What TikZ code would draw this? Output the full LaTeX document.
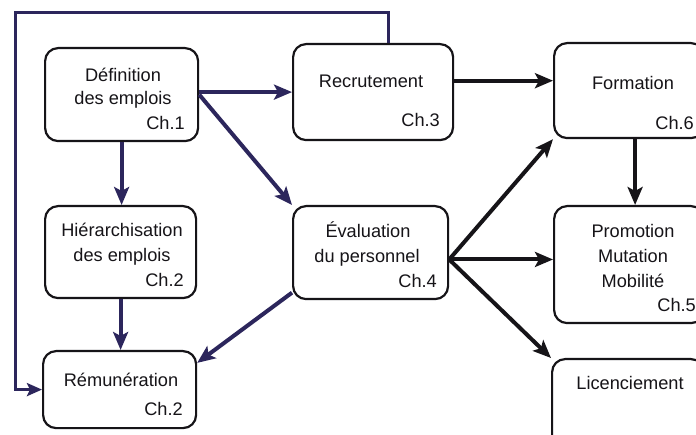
\documentclass[tikz,border=0pt]{standalone}
\usepackage{fontspec}
\setmainfont{Liberation Sans}
\usetikzlibrary{arrows.meta}
\definecolor{inkNavy}{RGB}{44,38,92}
\definecolor{inkDark}{RGB}{22,20,24}
\tikzset{
  box/.style={draw=inkDark, line width=2.2pt, rounded corners=13pt, anchor=north west, inner sep=0pt},
  lbl/.style={font=\fontsize{18.2}{23}\selectfont, text=inkDark, inner sep=0pt, anchor=base},
  chap/.style={lbl, anchor=base east},
  tipL/.style={-{Stealth[length=18pt,width=15pt,inset=4pt]}},
  arrN/.style={tipL, draw=inkNavy, line width=4pt},
  arrK/.style={tipL, draw=inkDark, line width=4pt},
  loopline/.style={-{Stealth[length=15pt,width=13pt,inset=3pt]}, draw=inkNavy, line width=3pt}
}
\begin{document}
\begin{tikzpicture}[x=1pt,y=-1pt]
\useasboundingbox (0,0) rectangle (696,435);
\clip (0,0) rectangle (696,435);
\fill[white] (0,0) rectangle (696,435);

% boxes
\node[box, minimum width=153pt, minimum height=93pt] (def)  at (44,47)  {};
\node[box, minimum width=160pt, minimum height=96pt] (rec)  at (292,43) {};
\node[box, minimum width=150pt, minimum height=95pt] (form) at (553,42) {};
\node[box, minimum width=151pt, minimum height=92pt] (hier) at (44,205) {};
\node[box, minimum width=155pt, minimum height=93pt] (eval) at (292,205) {};
\node[box, minimum width=150pt, minimum height=117pt] (prom) at (553,205) {};
\node[box, minimum width=153pt, minimum height=77pt] (rem)  at (42,350) {};
\node[box, minimum width=152pt, minimum height=95pt] (lic)  at (551,358) {};

% texts
\node[lbl] (defA) at (123,82)  {Définition};
\node[lbl] (defB) at (123,105) {des emplois};
\node[chap] (defC) at (185,130) {Ch.1};

\node[lbl] (recA) at (371,88) {Recrutement};
\node[chap] (recC) at (440,127) {Ch.3};

\node[lbl] (formA) at (633,90) {Formation};
\node[chap] (formC) at (694,130) {Ch.6};

\node[lbl] (hierA) at (122,237) {Hiérarchisation};
\node[lbl] (hierB) at (122,262) {des emplois};
\node[chap] (hierC) at (184,287) {Ch.2};

\node[lbl] (evalA) at (368,238) {Évaluation};
\node[lbl] (evalB) at (367,263) {du personnel};
\node[chap] (evalC) at (437,288) {Ch.4};

\node[lbl] (promA) at (633,238) {Promotion};
\node[lbl] (promB) at (633,263) {Mutation};
\node[lbl] (promC) at (633,288) {Mobilité};
\node[chap] (promD) at (696,312) {Ch.5};

\node[lbl] (remA) at (121,387) {Rémunération};
\node[chap] (remC) at (183,415) {Ch.2};

\node[lbl] (licA) at (630,390) {Licenciement};

% connectors (left part)
\draw[arrN] (def.east |- rec.west) -- (rec.west);
\draw[arrN] (def.east) -- (eval.north west);
\draw[arrN] (def.south) -- (def.south |- hier.north);
\draw[arrN] (hier.south) -- (hier.south |- rem.north);
\draw[arrN] (eval.207) -- (rem.19);

% connectors (right part)
\draw[arrK] (rec.8) -- (rec.8 -| form.west);
\draw[arrK] (eval.-5) -- (form.south west);
\draw[arrK] (eval.-5) -- (eval.-5 -| prom.west);
\draw[arrK] (eval.-5) -- (lic.north west);
\draw[arrK] ([xshift=6pt]form.south) -- ([xshift=6pt]form.south |- prom.north);

% feedback loop
\coordinate (fbTL) at (15,13);
\draw[loopline] ([xshift=15pt]rec.north) |- (fbTL) |- (rem.west);
\end{tikzpicture}
\end{document}
